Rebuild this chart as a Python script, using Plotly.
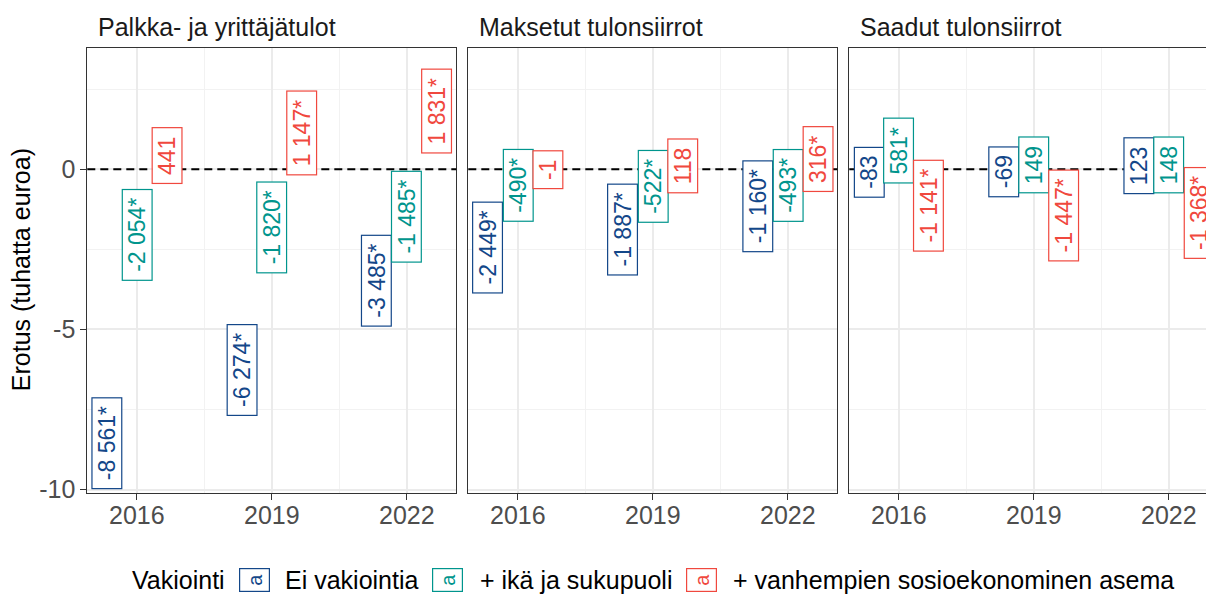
import plotly.graph_objects as go

# ---------------- data ----------------
years = [2016, 2019, 2022]
panel_titles = ["Palkka- ja yrittäjätulot", "Maksetut tulonsiirrot", "Saadut tulonsiirrot"]
series_names = ["Ei vakiointia", "+ ikä ja sukupuoli", "+ vanhempien sosioekonominen asema"]
legend_title = "Vakiointi"
y_title = "Erotus (tuhatta euroa)"
y_tickvals = [-10, -5, 0]
y_ticktext = ["-10", "-5", "0"]

# differences in euros (shown in thousands), per panel and series, years 2016/2019/2022
palkka_ei = [-8561, -6274, -3485]
palkka_ika = [-2054, -1820, -1485]
palkka_vanh = [441, 1147, 1831]
palkka_ei_sig = [True, True, True]
palkka_ika_sig = [True, True, True]
palkka_vanh_sig = [False, True, True]

maksetut_ei = [-2449, -1887, -1160]
maksetut_ika = [-490, -522, -493]
maksetut_vanh = [-1, 118, 316]
maksetut_ei_sig = [True, True, True]
maksetut_ika_sig = [True, True, True]
maksetut_vanh_sig = [False, False, True]

saadut_ei = [-83, -69, 123]
saadut_ika = [581, 149, 148]
saadut_vanh = [-1141, -1447, -1368]
saadut_ei_sig = [False, False, False]
saadut_ika_sig = [True, False, False]
saadut_vanh_sig = [True, True, True]

colors = ["#134789", "#00958d", "#f0483e"]

panel_values = [
    [palkka_ei, palkka_ika, palkka_vanh],
    [maksetut_ei, maksetut_ika, maksetut_vanh],
    [saadut_ei, saadut_ika, saadut_vanh],
]
panel_sig = [
    [palkka_ei_sig, palkka_ika_sig, palkka_vanh_sig],
    [maksetut_ei_sig, maksetut_ika_sig, maksetut_vanh_sig],
    [saadut_ei_sig, saadut_ika_sig, saadut_vanh_sig],
]

# ---------------- layout constants ----------------
W, H = 1206, 594
panel_px = [(87.3, 456.3), (468.3, 837.3), (849.3, 1206.0)]
px_per_year = 45.0
x_left = 2014.9
y_top_px, y_bot_px = 47.7, 492.7
y_range = [-10.1, 3.8]
dodge = [-0.667, 0.0, 0.667]
NB = "\u00a0"


def fmt(v, sig):
    s = f"{abs(v):,}".replace(",", NB)
    if v < 0:
        s = "-" + s
    return NB + s + ("*" if sig else "") + NB


fig = go.Figure()
annotations = []
shapes = []
font_family = "Liberation Sans, Arial, sans-serif"
TXT = 25

for p in range(3):
    ax = "" if p == 0 else str(p + 1)
    xref, yref = "x" + ax, "y" + ax
    for s in range(3):
        xs = [yr + dodge[s] for yr in years]
        ys = [v / 1000 for v in panel_values[p][s]]
        fig.add_trace(go.Scatter(
            x=xs, y=ys, mode="markers", marker=dict(opacity=0, color=colors[s]),
            xaxis=xref, yaxis=yref, showlegend=False, hoverinfo="skip"))
        for xv, yv, raw, sg in zip(xs, ys, panel_values[p][s], panel_sig[p][s]):
            annotations.append(dict(
                x=xv, y=yv, xref=xref, yref=yref, text=fmt(raw, sg), showarrow=False,
                textangle=-90, font=dict(family=font_family, size=23, color=colors[s]),
                bgcolor="white", bordercolor=colors[s], borderwidth=1.2, borderpad=1.5,
                xanchor="center", yanchor="middle"))
    # zero reference line
    shapes.append(dict(type="line", xref=xref + " domain", yref=yref, x0=0, x1=1, y0=0, y1=0,
                       line=dict(color="black", width=2, dash="8px,5px"), layer="above"))

    l, r = panel_px[p]
    x_right = x_left + (r - l) / px_per_year
    xa = dict(
        domain=[l / W, r / W], range=[x_left, x_right], anchor=yref,
        tickvals=years, ticktext=[str(y) for y in years],
        ticks="outside", ticklen=6, tickwidth=1, tickcolor="#333333",
        ticklabelstandoff=-6,
        tickfont=dict(family=font_family, size=TXT, color="#4d4d4d"),
        showgrid=True, gridcolor="#ebebeb", gridwidth=1.6,
        minor=dict(tickvals=[2017.5, 2020.5], showgrid=True, gridcolor="#f2f2f2", gridwidth=0.8, ticks=""),
        showline=True, linecolor="#333333", linewidth=1, mirror=True, zeroline=False,
        fixedrange=True,
    )
    ya = dict(
        domain=[1 - y_bot_px / H, 1 - y_top_px / H], range=y_range, anchor=xref,
        tickvals=y_tickvals, ticktext=y_ticktext,
        showgrid=True, gridcolor="#ebebeb", gridwidth=1.6,
        minor=dict(tickvals=[-7.5, -2.5, 2.5], showgrid=True, gridcolor="#f2f2f2", gridwidth=0.8, ticks=""),
        showline=True, linecolor="#333333", linewidth=1, mirror=(p < 2), zeroline=False,
        fixedrange=True,
    )
    if p == 0:
        ya.update(ticks="outside", ticklen=6, tickwidth=1, tickcolor="#333333",
                  tickfont=dict(family=font_family, size=TXT, color="#4d4d4d"))
    else:
        ya.update(showticklabels=False, ticks="", matches="y")
    fig.update_layout({"xaxis" + ax: xa, "yaxis" + ax: ya})

    # facet title
    annotations.append(dict(
        x=(l + 9) / W, y=1 - 27 / H, xref="paper", yref="paper", text=panel_titles[p],
        showarrow=False, xanchor="left", yanchor="middle",
        font=dict(family=font_family, size=TXT, color="#1a1a1a")))

# y-axis title
annotations.append(dict(
    x=21 / W, y=1 - ((y_top_px + y_bot_px) / 2) / H, xref="paper", yref="paper",
    text=y_title, showarrow=False, textangle=-90, xanchor="center", yanchor="middle",
    font=dict(family=font_family, size=TXT, color="black")))

# manual legend
legend_y = 1 - 580 / H
annotations.append(dict(
    x=130 / W, y=legend_y, xref="paper", yref="paper", text=legend_title, showarrow=False,
    xanchor="left", yanchor="middle", font=dict(family=font_family, size=TXT, color="black")))
key_centers = [254, 447, 701]
text_starts = [283, 478, 731]
for s in range(3):
    annotations.append(dict(
        x=key_centers[s] / W, y=legend_y, xref="paper", yref="paper", text="a",
        showarrow=False, textangle=-90, xanchor="center", yanchor="middle",
        font=dict(family=font_family, size=20, color=colors[s]),
        bgcolor="white", bordercolor=colors[s], borderwidth=1.2, borderpad=2,
        width=18, height=25))
    annotations.append(dict(
        x=text_starts[s] / W, y=legend_y, xref="paper", yref="paper", text=series_names[s],
        showarrow=False, xanchor="left", yanchor="middle",
        font=dict(family=font_family, size=TXT, color="black")))

fig.update_layout(
    width=W, height=H, autosize=False, margin=dict(l=0, r=0, t=0, b=0, autoexpand=False),
    paper_bgcolor="white", plot_bgcolor="white",
    annotations=annotations, shapes=shapes, showlegend=False,
    font=dict(family=font_family),
)

fig.write_html(
    "out.html",
    config={"displayModeBar": False, "responsive": False},
    post_script="document.body.style.margin='0';document.body.style.overflow='hidden';",
)
